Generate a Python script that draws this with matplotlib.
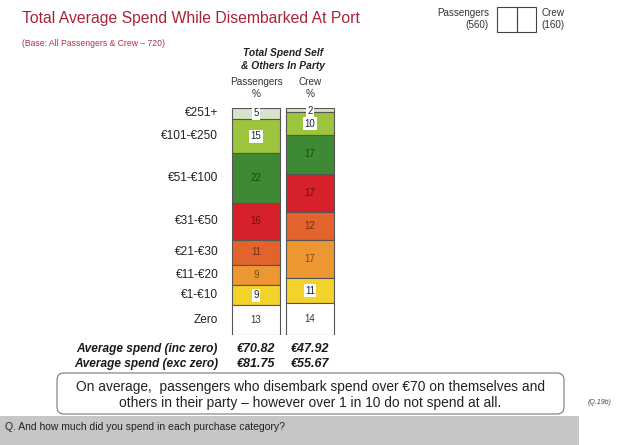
import matplotlib.pyplot as plt
import matplotlib.colors as mcolors
from matplotlib.patches import FancyBboxPatch, Rectangle
import numpy as np

plt.rcParams['font.family'] = ['Liberation Sans', 'DejaVu Sans']

# data
categories = ["€251+", "€101-€250", "€51-€100", "€31-€50", "€21-€30", "€11-€20", "€1-€10", "Zero"]
passengers = [5, 15, 22, 16, 11, 9, 9, 13]
crew = [2, 10, 17, 17, 12, 17, 11, 14]
groups = ["Passengers", "Crew"]
bases = [560, 160]
avg_inc = ["€70.82", "€47.92"]
avg_exc = ["€81.75", "€55.67"]

colors = ["#d9e3c9", "#9cc43c", "#3e8a34", "#d6212b", "#e2632b", "#ec9731", "#f4d22c", "#ffffff"]
# which labels sit in a white box
boxed_p = [True, True, False, False, False, False, True, False]
boxed_c = [True, True, False, False, False, False, True, False]

W, H = 618, 445
fig = plt.figure(figsize=(W/100, H/100), dpi=100)

# background axes in pixel coords for free text
bg = fig.add_axes([0, 0, 1, 1])
bg.set_xlim(0, W)
bg.set_ylim(H, 0)
bg.axis("off")

bg.text(22, 18, "Total Average Spend While Disembarked At Port", fontsize=11.3,
        color="#a8233a", va="center", ha="left")
bg.text(22, 44, "(Base: All Passengers & Crew – 720)", fontsize=6.2, color="#b03040",
        va="center", ha="left")

bg.text(283, 53, "Total Spend Self", fontsize=7.4, fontweight="bold", fontstyle="italic",
        ha="center", va="center", color="#222222")
bg.text(283, 66, "& Others In Party", fontsize=7.4, fontweight="bold", fontstyle="italic",
        ha="center", va="center", color="#222222")

# legend top right
bg.text(489, 13, "Passengers", fontsize=7.1, ha="right", va="center", color="#333333")
bg.text(489, 25, "(%d)" % bases[0], fontsize=7.1, ha="right", va="center", color="#333333")
bg.text(541, 13, "Crew", fontsize=7.1, ha="left", va="center", color="#333333")
bg.text(541, 25, "(%d)" % bases[1], fontsize=7.1, ha="left", va="center", color="#333333")
bg.add_patch(Rectangle((497, 7), 19.5, 25, fill=False, ec="#444444", lw=0.8))
bg.add_patch(Rectangle((516.5, 7), 19.5, 25, fill=False, ec="#444444", lw=0.8))

# bars axes
ax = fig.add_axes([229/W, 1 - 335/H, 108/W, 227.3/H])
ax.set_xlim(-0.5, 1.5)
ax.set_ylim(100, 0)
ax.axis("off")

x = np.arange(len(groups))
for gi, vals in enumerate([passengers, crew]):
    boxed = boxed_p if gi == 0 else boxed_c
    bottom = 0
    for ci, v in enumerate(vals):
        ax.bar(x[gi], v, bottom=bottom, width=0.89, color=colors[ci],
               edgecolor="#555555", linewidth=0.8)
        yc = bottom + v / 2
        if gi == 1 and ci == 0:
            yc = bottom + v / 2 + 0.3
        if boxed[ci]:
            ax.text(x[gi], yc, str(v), fontsize=7, ha="center", va="center",
                    color="#1e2440",
                    bbox=dict(boxstyle="square,pad=0.15", fc="white", ec="none"))
        elif colors[ci] == "#ffffff":
            ax.text(x[gi], yc, str(v), fontsize=7, ha="center", va="center", color="#333333")
        else:
            dark = np.array(mcolors.to_rgb(colors[ci])) * 0.5
            ax.text(x[gi], yc, str(v), fontsize=7, ha="center", va="center", color=dark)
        bottom += v

# category labels at passenger segment centres
centres = np.cumsum(passengers) - np.array(passengers) / 2
for lab, yc in zip(categories, centres):
    ax.text(-0.70, yc, lab, fontsize=8.6, ha="right", va="center", color="#222222",
            clip_on=False)

# column headers
for gi, g in enumerate(groups):
    ax.text(x[gi], -11.5, g, fontsize=7.2, ha="center", va="center", color="#333333", clip_on=False)
    ax.text(x[gi], -6.0, "%", fontsize=7.2, ha="center", va="center", color="#333333", clip_on=False)

# average spend rows
bg.text(218, 349, "Average spend (inc zero)", fontsize=8.6, fontweight="bold",
        fontstyle="italic", ha="right", va="center", color="#1a1a1a")
bg.text(218, 364, "Average spend (exc zero)", fontsize=8.6, fontweight="bold",
        fontstyle="italic", ha="right", va="center", color="#1a1a1a")
for gi in range(len(groups)):
    ax.text(x[gi], 100 + 14.5 / 2.273, avg_inc[gi], fontsize=9, fontweight="bold",
            fontstyle="italic", ha="center", va="center", color="#1a1a1a", clip_on=False)
    ax.text(x[gi], 100 + 29.5 / 2.273, avg_exc[gi], fontsize=9, fontweight="bold",
            fontstyle="italic", ha="center", va="center", color="#1a1a1a", clip_on=False)

# call-out box
bg.add_patch(FancyBboxPatch((57, 373), 507, 41, boxstyle="round,pad=0,rounding_size=7",
                            fc="white", ec="#777777", lw=0.8))
bg.text(310, 387, "On average,  passengers who disembark spend over €70 on themselves and",
        fontsize=9.9, ha="center", va="center", color="#222222")
bg.text(310, 403, "others in their party – however over 1 in 10 do not spend at all.",
        fontsize=9.9, ha="center", va="center", color="#222222")
bg.text(588, 403, "(Q.19b)", fontsize=5, fontstyle="italic", ha="left", va="center", color="#444444")

# question bar
bg.add_patch(Rectangle((0, 416), 579, 29, fc="#c6c6c6", ec="none"))
bg.text(5, 427, "Q. And how much did you spend in each purchase category?", fontsize=7.5,
        ha="left", va="center", color="#222222")

fig.savefig("out.png", dpi=100)
